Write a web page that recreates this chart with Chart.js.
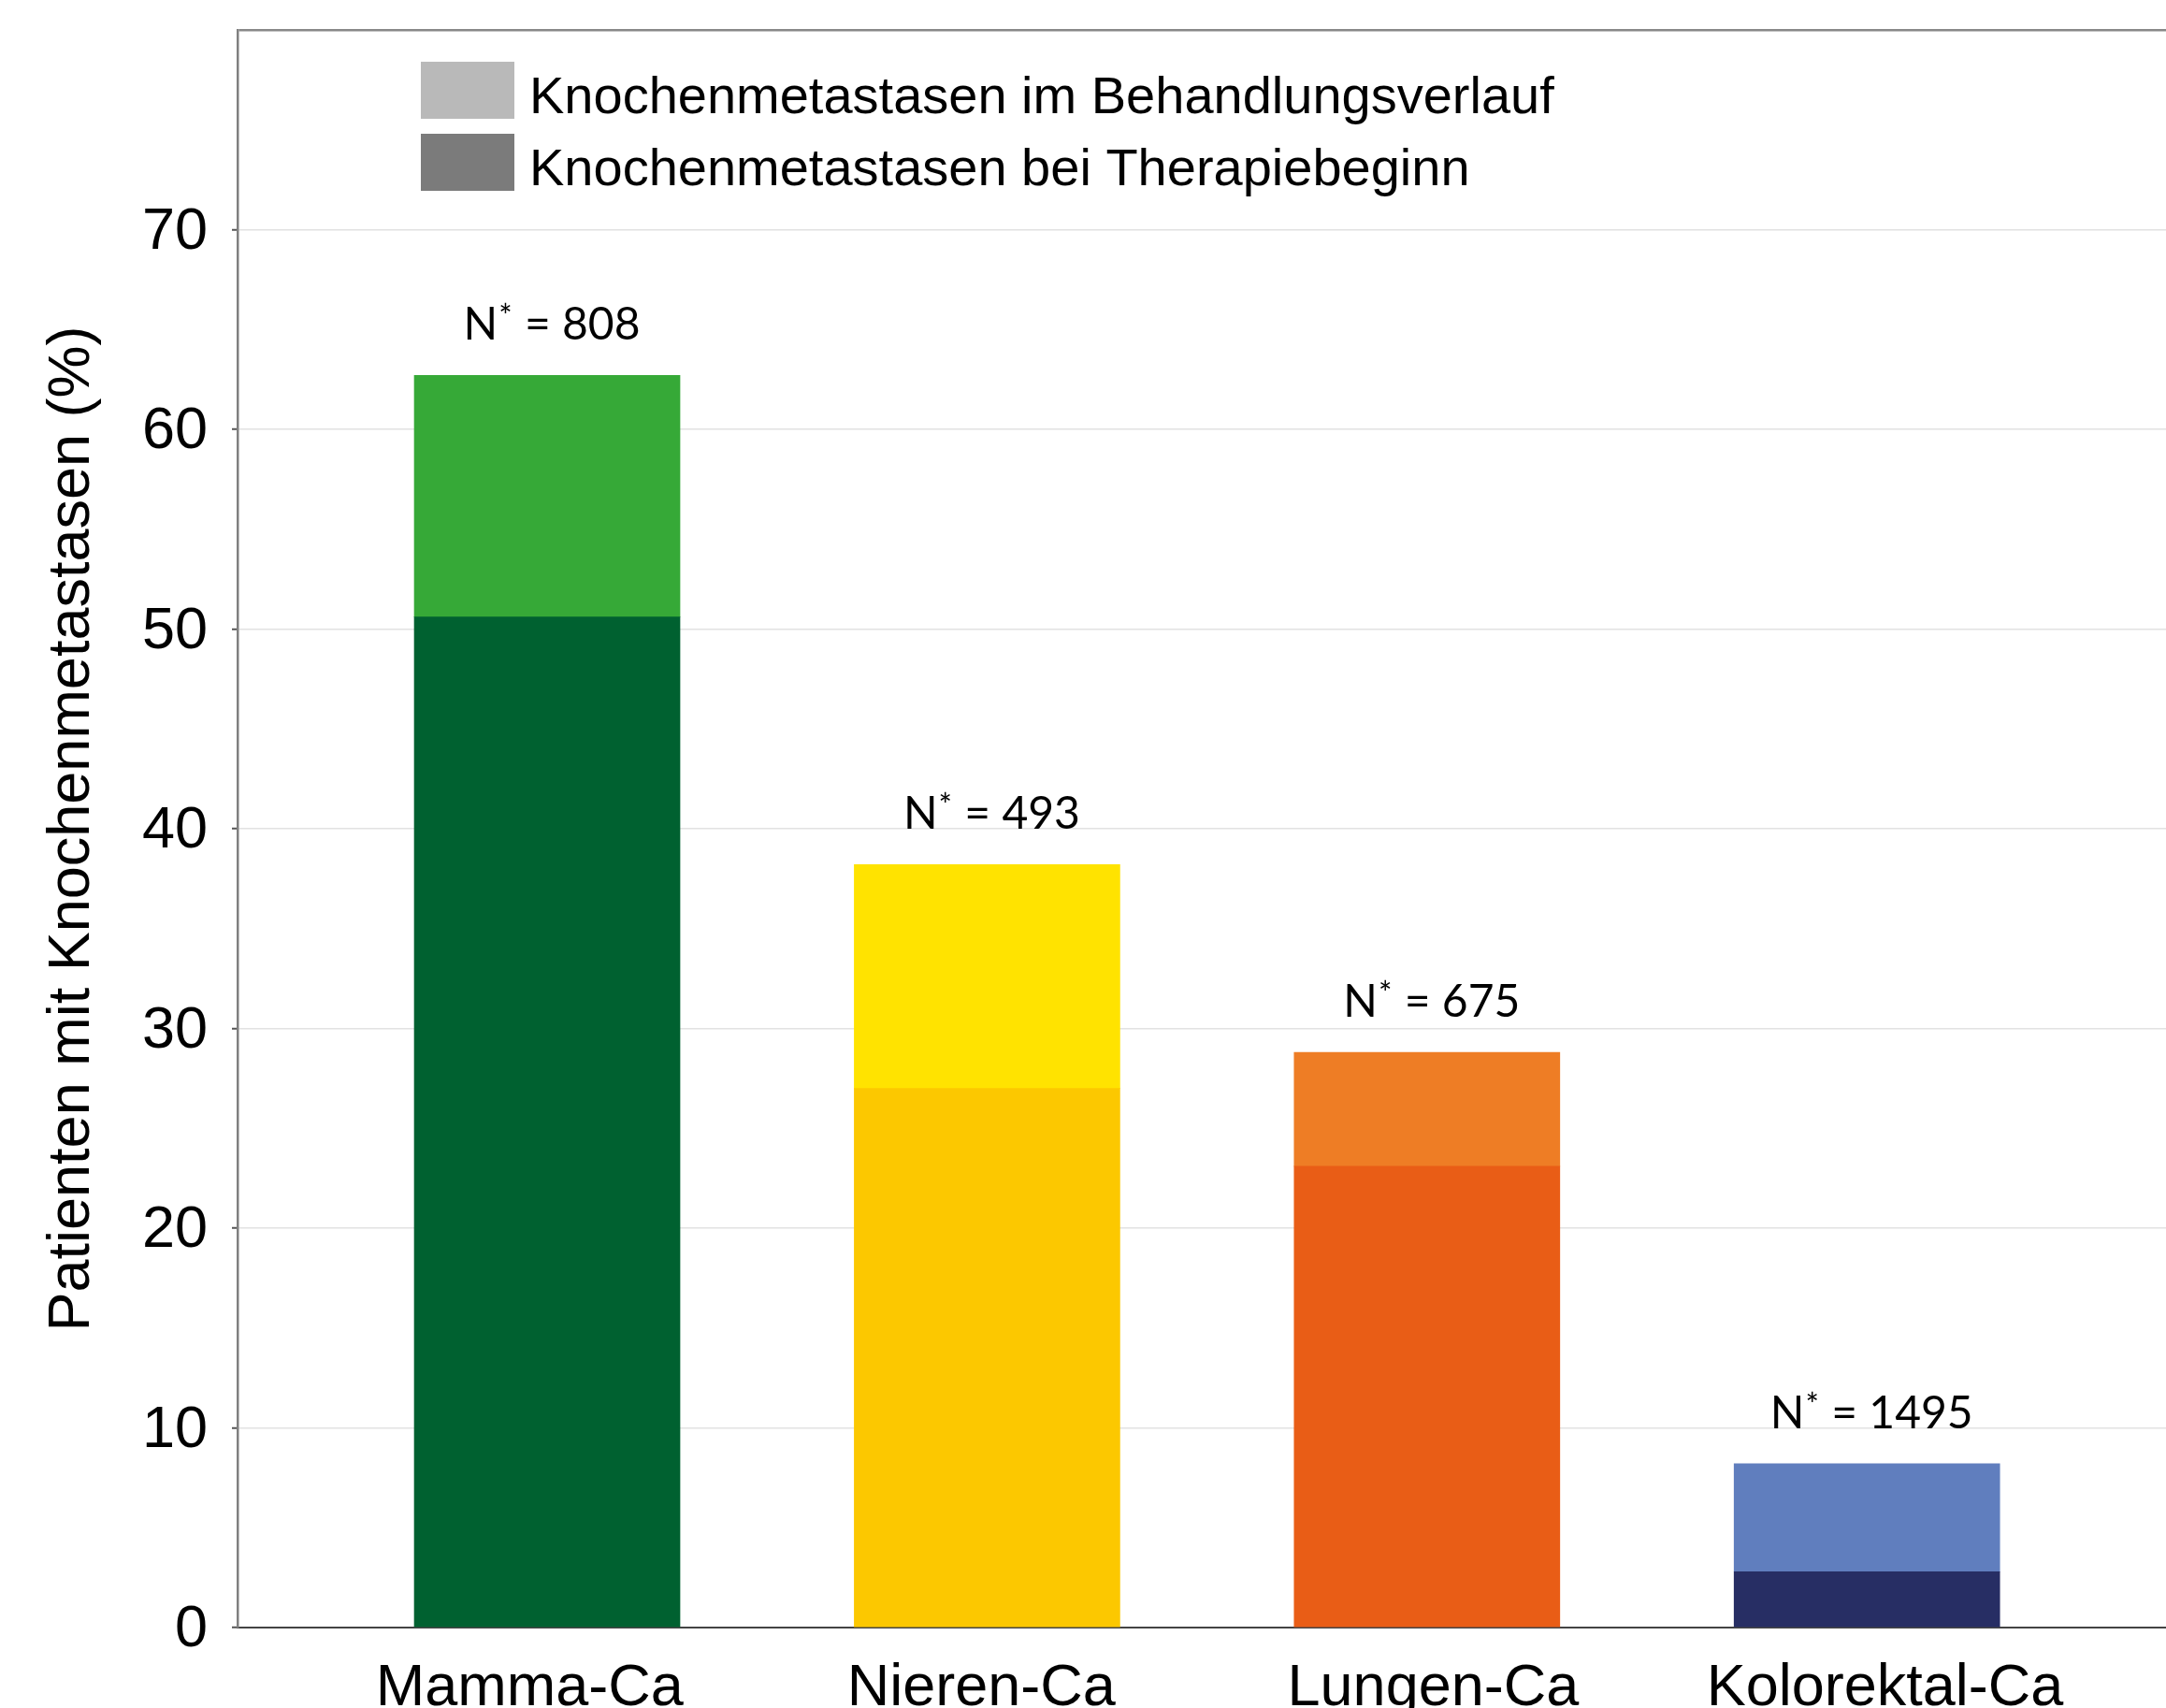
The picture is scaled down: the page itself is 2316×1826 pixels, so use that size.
<!DOCTYPE html>
<html>
<head>
<meta charset="utf-8">
<script src="https://cdn.jsdelivr.net/npm/chart.js@4/dist/chart.umd.min.js"></script>
<style>
  html, body { margin: 0; padding: 0; background: #ffffff; overflow: hidden; }
  #wrap { width: 2400px; height: 1840px; }
</style>
</head>
<body>
<div id="wrap"><canvas id="chart" width="2400" height="1840"></canvas></div>
<script>
// Tumour entities
const categories = ['Mamma-Ca', 'Nieren-Ca', 'Lungen-Ca', 'Kolorektal-Ca'];
// Share of patients with bone metastases already present at start of therapy (%)
const atTherapyStart = [50.6, 27.0, 23.1, 2.8];
// Share of patients with bone metastases overall, incl. those found during treatment (%)
const overall = [62.7, 38.2, 28.8, 8.2];
// Number of patients per entity
const patientCounts = [808, 493, 675, 1495];

const seriesLabels = [
  'Knochenmetastasen im Behandlungsverlauf',
  'Knochenmetastasen bei Therapiebeginn'
];
const legendColors = ['#b9b9b9', '#7b7b7b'];
const darkColors = ['#006130', '#fcc800', '#e95d16', '#272e64'];
const lightColors = ['#36a937', '#ffe300', '#ee7d25', '#607ebe'];

const yMax = 80;
const yStep = 10;
const yTitle = 'Patienten mit Knochenmetastasen (%)';

// category labels sit on a slightly wider pitch than the bars
const labelPitch = 1.027;
const labelShift = -0.04;

const SANS = '"Liberation Sans", Arial, sans-serif';
const LABEL_FONT = 'Lato, "Open Sans", sans-serif';

// Grey legend in the upper left of the plot area
const cornerLegend = {
  id: 'cornerLegend',
  afterDraw(chart) {
    const { ctx, chartArea: a } = chart;
    ctx.save();
    ctx.font = '56px ' + SANS;
    ctx.textBaseline = 'alphabetic';
    ctx.textAlign = 'left';
    seriesLabels.forEach((label, k) => {
      const y0 = a.top + 34 + k * 77;
      ctx.fillStyle = legendColors[k];
      ctx.fillRect(a.left + 196, y0, 100, 61);
      ctx.fillStyle = '#000';
      ctx.fillText(label, a.left + 312, y0 + 55);
    });
    ctx.restore();
  }
};

// "N* = ..." above every bar
const countLabels = {
  id: 'countLabels',
  afterDatasetsDraw(chart) {
    const { ctx } = chart;
    const meta = chart.getDatasetMeta(1);
    ctx.save();
    ctx.fillStyle = '#000';
    ctx.textBaseline = 'alphabetic';
    ctx.textAlign = 'left';
    meta.data.forEach((bar, i) => {
      const main = '48px ' + LABEL_FONT;
      const sup = '34px ' + LABEL_FONT;
      const rest = ' = ' + patientCounts[i];
      ctx.font = main;
      const wN = ctx.measureText('N').width;
      const wRest = ctx.measureText(rest).width;
      ctx.font = sup;
      const wStar = ctx.measureText('*').width;
      const total = wN + wStar + 2 + wRest;
      const base = bar.y - 38;
      let x = bar.x + 5 - total / 2;
      ctx.font = main;
      ctx.fillText('N', x, base);
      x += wN + 1;
      ctx.font = sup;
      ctx.fillText('*', x, base - 13);
      x += wStar + 1;
      ctx.font = main;
      ctx.fillText(rest, x, base);
    });
    ctx.restore();
  }
};

new Chart(document.getElementById('chart'), {
  type: 'bar',
  data: {
    datasets: [
      {
        label: seriesLabels[1],
        data: categories.map((c, i) => ({ x: i, y: atTherapyStart[i] })),
        backgroundColor: darkColors,
        borderWidth: 0,
        grouped: false,
        barThickness: 284
      },
      {
        label: seriesLabels[0],
        data: categories.map((c, i) => ({ x: i, y: [atTherapyStart[i], overall[i]] })),
        backgroundColor: lightColors,
        borderWidth: 0,
        grouped: false,
        barThickness: 284
      }
    ]
  },
  options: {
    responsive: false,
    animation: false,
    events: [],
    layout: { padding: { left: 0, top: 32, right: 0, bottom: 0 } },
    plugins: {
      legend: { display: false },
      tooltip: { enabled: false }
    },
    scales: {
      x: {
        type: 'linear',
        offset: false,
        min: -0.7037,
        max: 3.8584,
        grid: { display: false, drawTicks: false, offset: false },
        border: { display: true, color: '#444444', width: 2 },
        ticks: {
          padding: 28,
          color: '#000',
          font: { family: SANS, size: 63 },
          maxRotation: 0,
          autoSkip: false,
          callback: (v, idx) => (categories[idx] !== undefined ? categories[idx] : '')
        },
        afterBuildTicks: (s) => {
          s.ticks = categories.map((c, i) => ({ value: labelShift + i * labelPitch }));
        },
        afterFit: (s) => { s.height = 100; s.paddingLeft = 0; s.paddingRight = 0; }
      },
      y: {
        min: 0,
        max: yMax,
        ticks: {
          stepSize: yStep,
          padding: 26,
          labelOffset: 3,
          color: '#000',
          font: { family: SANS, size: 63, lineHeight: 1 },
          callback: (v) => (v >= yMax ? '' : v)
        },
        grid: {
          color: (c) => (c.tick && c.tick.value >= yMax ? '#888888' : (c.tick && c.tick.value === 0 ? 'rgba(0,0,0,0)' : '#e2e2e2')),
          lineWidth: (c) => (c.tick && c.tick.value >= yMax ? 2.5 : 1.5),
          tickLength: 6,
          tickWidth: 2,
          tickColor: (c) => (c.tick && c.tick.value >= yMax ? 'rgba(0,0,0,0)' : '#555555')
        },
        border: { display: true, color: '#808080', width: 2.5 },
        title: {
          display: true,
          text: yTitle,
          color: '#000',
          font: { family: SANS, size: 63 },
          padding: { top: 40, bottom: 0 }
        },
        afterFit: (s) => { s.width = 254; s.paddingTop = 0; s.paddingBottom = 0; }
      }
    }
  },
  plugins: [countLabels, cornerLegend]
});
</script>
</body>
</html>
